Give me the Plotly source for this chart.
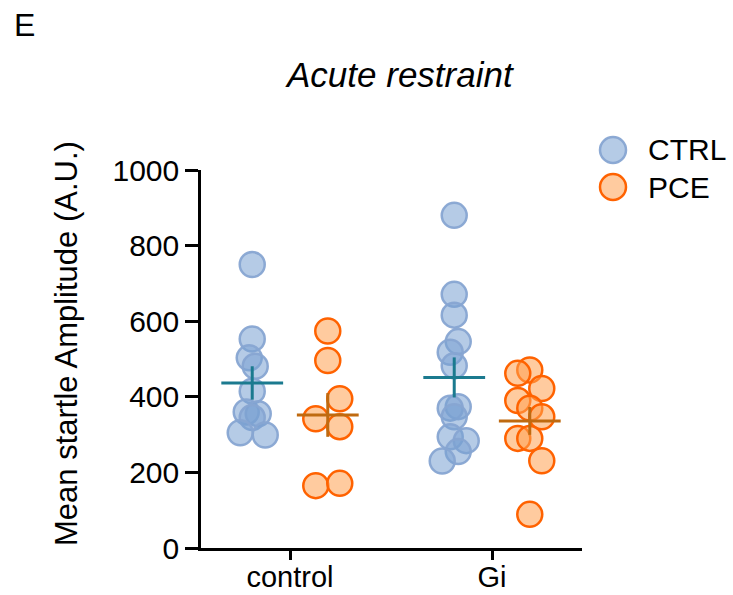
import numpy as np
import plotly.graph_objects as go

# ---------------- data ----------------
categories = ["control", "Gi"]
series_names = ["CTRL", "PCE"]
y_ticks = [0, 200, 400, 600, 800, 1000]

ctrl_control = [750, 553, 503, 481, 415, 360, 355, 345, 305, 299]
pce_control = [574, 496, 395, 342, 321, 165, 171]
ctrl_gi = [880, 671, 616, 546, 518, 482, 374, 370, 347, 294, 284, 255, 230]
pce_gi = [471, 462, 422, 390, 370, 347, 290, 290, 231, 89]

# horizontal scatter offsets of each dot (pixels, for the swarm look)
jit_ctrl_control = [0, 0, -3, 3, 0, -6, 6, 0, -12, 13]
jit_pce_control = [0, 0, 12, -12, 12, -12, 12]
jit_ctrl_gi = [0, 0, 0, 4, -4, 0, 4, -4, 0, -4, 12, 4, -12]
jit_pce_gi = [0, -12, 12, -12, 0, 12, -12, 0, 12, 0]

# ---------------- style ----------------
FONT = "Arial, Liberation Sans, Helvetica, sans-serif"
PX_PER_UNIT = 202.0
GROUP_OFFSET = 0.187
MEAN_HALF = 0.153

styles = {
    "CTRL": dict(fill="rgba(120,160,210,0.55)", line="rgba(135,165,210,0.95)", mean="#1b7a8f"),
    "PCE": dict(fill="rgba(255,160,80,0.55)", line="#ff6200", mean="#bf6a10"),
}

groups = [
    ("CTRL", 0, ctrl_control, jit_ctrl_control),
    ("PCE", 0, pce_control, jit_pce_control),
    ("CTRL", 1, ctrl_gi, jit_ctrl_gi),
    ("PCE", 1, pce_gi, jit_pce_gi),
]

fig = go.Figure()

# dots
for name, ci, vals, jit in groups:
    st = styles[name]
    center = ci + 1 + (-GROUP_OFFSET if name == "CTRL" else GROUP_OFFSET)
    xs = [center + j / PX_PER_UNIT for j in jit]
    fig.add_trace(go.Scatter(
        x=xs, y=vals, mode="markers", name=name, showlegend=False, cliponaxis=False,
        marker=dict(size=25, color=st["fill"], line=dict(color=st["line"], width=2.5)),
    ))

# mean + SEM
for name, ci, vals, jit in groups:
    st = styles[name]
    center = ci + 1 + (-GROUP_OFFSET if name == "CTRL" else GROUP_OFFSET)
    arr = np.array(vals, dtype=float)
    m = arr.mean()
    sem = arr.std(ddof=1) / np.sqrt(len(arr))
    fig.add_trace(go.Scatter(
        x=[center - MEAN_HALF, center + MEAN_HALF], y=[m, m], mode="lines",
        line=dict(color=st["mean"], width=3), showlegend=False, hoverinfo="skip"))
    fig.add_trace(go.Scatter(
        x=[center, center], y=[m - sem, m + sem], mode="lines",
        line=dict(color=st["mean"], width=3), showlegend=False, hoverinfo="skip"))

# ---------------- layout ----------------
L, R, T, B = 201, 151, 170, 47
W, H = 733, 595
pw, ph = W - L - R, H - T - B

def px_x(p):
    return (p - L) / pw

def px_y(p):
    return (H - B - p) / ph

x_left = 1 - (290 - L) / PX_PER_UNIT
x_right = x_left + pw / PX_PER_UNIT

fig.update_layout(
    width=W, height=H,
    margin=dict(l=L, r=R, t=T, b=B, pad=0),
    paper_bgcolor="white", plot_bgcolor="white",
    font=dict(family=FONT, size=30, color="black"),
    showlegend=False,
    xaxis=dict(
        range=[x_left, x_right], tickvals=[1, 2], ticktext=categories,
        showline=True, linecolor="black", linewidth=2.5, automargin=False,
        ticks="outside", ticklen=9, tickwidth=2.5, tickcolor="black",
        ticklabelstandoff=-8,
        showgrid=False, zeroline=False, tickfont=dict(size=29, family=FONT),
    ),
    yaxis=dict(
        range=[0, 1000], tickvals=y_ticks, automargin=False,
        showline=True, linecolor="black", linewidth=2.5,
        ticks="outside", ticklen=13, tickwidth=2.5, tickcolor="black",
        showgrid=False, zeroline=False, tickfont=dict(size=30, family=FONT),
    ),
)

annotations = [
    dict(text="E", x=px_x(12), y=px_y(25), xref="paper", yref="paper",
         xanchor="left", yanchor="middle", showarrow=False, font=dict(size=32, family=FONT)),
    dict(text="<i>Acute restraint</i>", x=px_x(399), y=px_y(74), xref="paper", yref="paper",
         xanchor="center", yanchor="middle", showarrow=False, font=dict(size=35, family=FONT)),
    dict(text="Mean startle Amplitude (A.U.)", x=px_x(66), y=px_y(344), xref="paper", yref="paper",
         xanchor="center", yanchor="middle", textangle=-90, showarrow=False,
         font=dict(size=31, family=FONT)),
]

shapes = []
legend_rows = [(series_names[0], 150), (series_names[1], 187)]
for name, py in legend_rows:
    st = styles[name]
    shapes.append(dict(
        type="circle", xref="paper", yref="paper", xsizemode="pixel", ysizemode="pixel",
        xanchor=px_x(613), yanchor=px_y(py), x0=-13, x1=13, y0=-13, y1=13,
        fillcolor=st["fill"], line=dict(color=st["line"], width=2.5)))
    annotations.append(dict(
        text=name, x=px_x(646), y=px_y(py), xref="paper", yref="paper",
        xanchor="left", yanchor="middle", showarrow=False, font=dict(size=30, family=FONT)))

fig.update_layout(annotations=annotations, shapes=shapes)

fig.write_html("out.html")
